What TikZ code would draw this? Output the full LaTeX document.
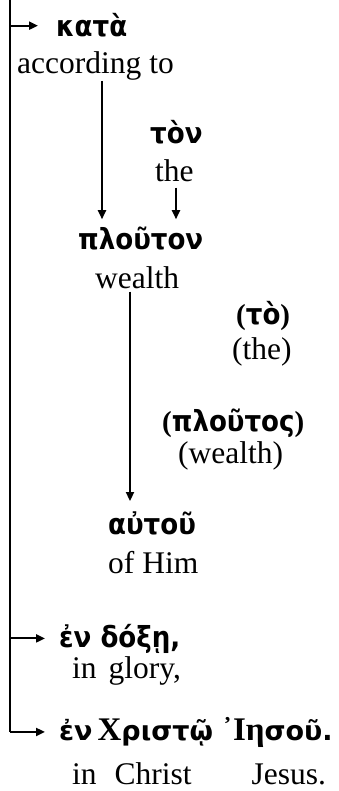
\documentclass[tikz,border=0pt]{standalone}
\usepackage{fontspec}
\setmainfont{Liberation Serif}
\newfontfamily\grk{DejaVu Sans Condensed}
\newfontfamily\grw{DejaVu Sans}
\newfontfamily\grs{Liberation Serif}
\newcommand{\bigserif}[1]{{\fontsize{33}{33}\grs\bfseries #1}}
\usetikzlibrary{arrows.meta}
\tikzset{
  en/.style={inner sep=0pt, anchor=base west, font=\fontsize{31.5}{36}\selectfont},
  gk/.style={inner sep=0pt, anchor=base west, font=\fontsize{29}{33}\grk\bfseries},
  gw/.style={inner sep=0pt, anchor=base west, font=\fontsize{27}{31}\grw\bfseries},
  arr/.style={line width=2pt, -{Stealth[length=9pt,width=8pt,inset=0pt]}},
  ln/.style={line width=2pt}
}
\begin{document}
\begin{tikzpicture}[x=1pt,y=-1pt]
\useasboundingbox (0,0) rectangle (339,791);
\node[gk] (kata) at (56,37) {κατὰ};
\node[en] (according) at (17,74) {according to};
\node[gk] (ton) at (150,144) {τὸν};
\node[en] (the1) at (155,182) {the};
\node[gk] (plouton) at (78,250) {πλοῦτον};
\node[en] (wealth) at (95,288) {wealth};
\node[gk] (to) at (236,324) {{\grs(}τὸ{\grs)}};
\node[en] (the2) at (232,359) {(the)};
\node[gk] (ploutos) at (162,431) {{\grs(}πλοῦτος{\grs)}};
\node[en] (wealth2) at (178,463) {(wealth)};
\node[gk] (autou) at (108,534) {αὐτοῦ};
\node[en] (ofhim) at (108,573) {of Him};
\node[gk] (doxe) at (59,647) {ἐν δόξῃ,};
\node[en] (glory) at (72,678) {in\hspace*{12pt}glory,};
\node[gw] (christ) at (59,740) {ἐν\hspace*{5pt}\bigserif{Χ}ριστῷ\hspace*{9pt}\bigserif{᾿Ιη}σοῦ.};
\node[en] (jesus) at (72,784) {in\hspace*{18pt}Christ\hspace*{60pt}Jesus.};
\coordinate (top) at (10,0);
\coordinate (c1) at (102,0);
\coordinate (c2) at (176,0);
\coordinate (c3) at (130,0);
\draw[ln] (top) -- (top |- christ.west);
\draw[arr] (top |- kata.west) -- ([xshift=-18pt]kata.west);
\draw[arr] (top |- doxe.west) -- ([xshift=-14pt]doxe.west);
\draw[arr] (top |- christ.west) -- ([xshift=-14pt]christ.west);
\draw[arr] (according.south -| c1) -- ([yshift=8pt]plouton.north -| c1);
\draw[arr] ([yshift=-5pt]the1.south -| c2) -- ([yshift=8pt]plouton.north -| c2);
\draw[arr] ([yshift=-3pt]wealth.south -| c3) -- ([yshift=10pt]autou.north -| c3);
\end{tikzpicture}
\end{document}
